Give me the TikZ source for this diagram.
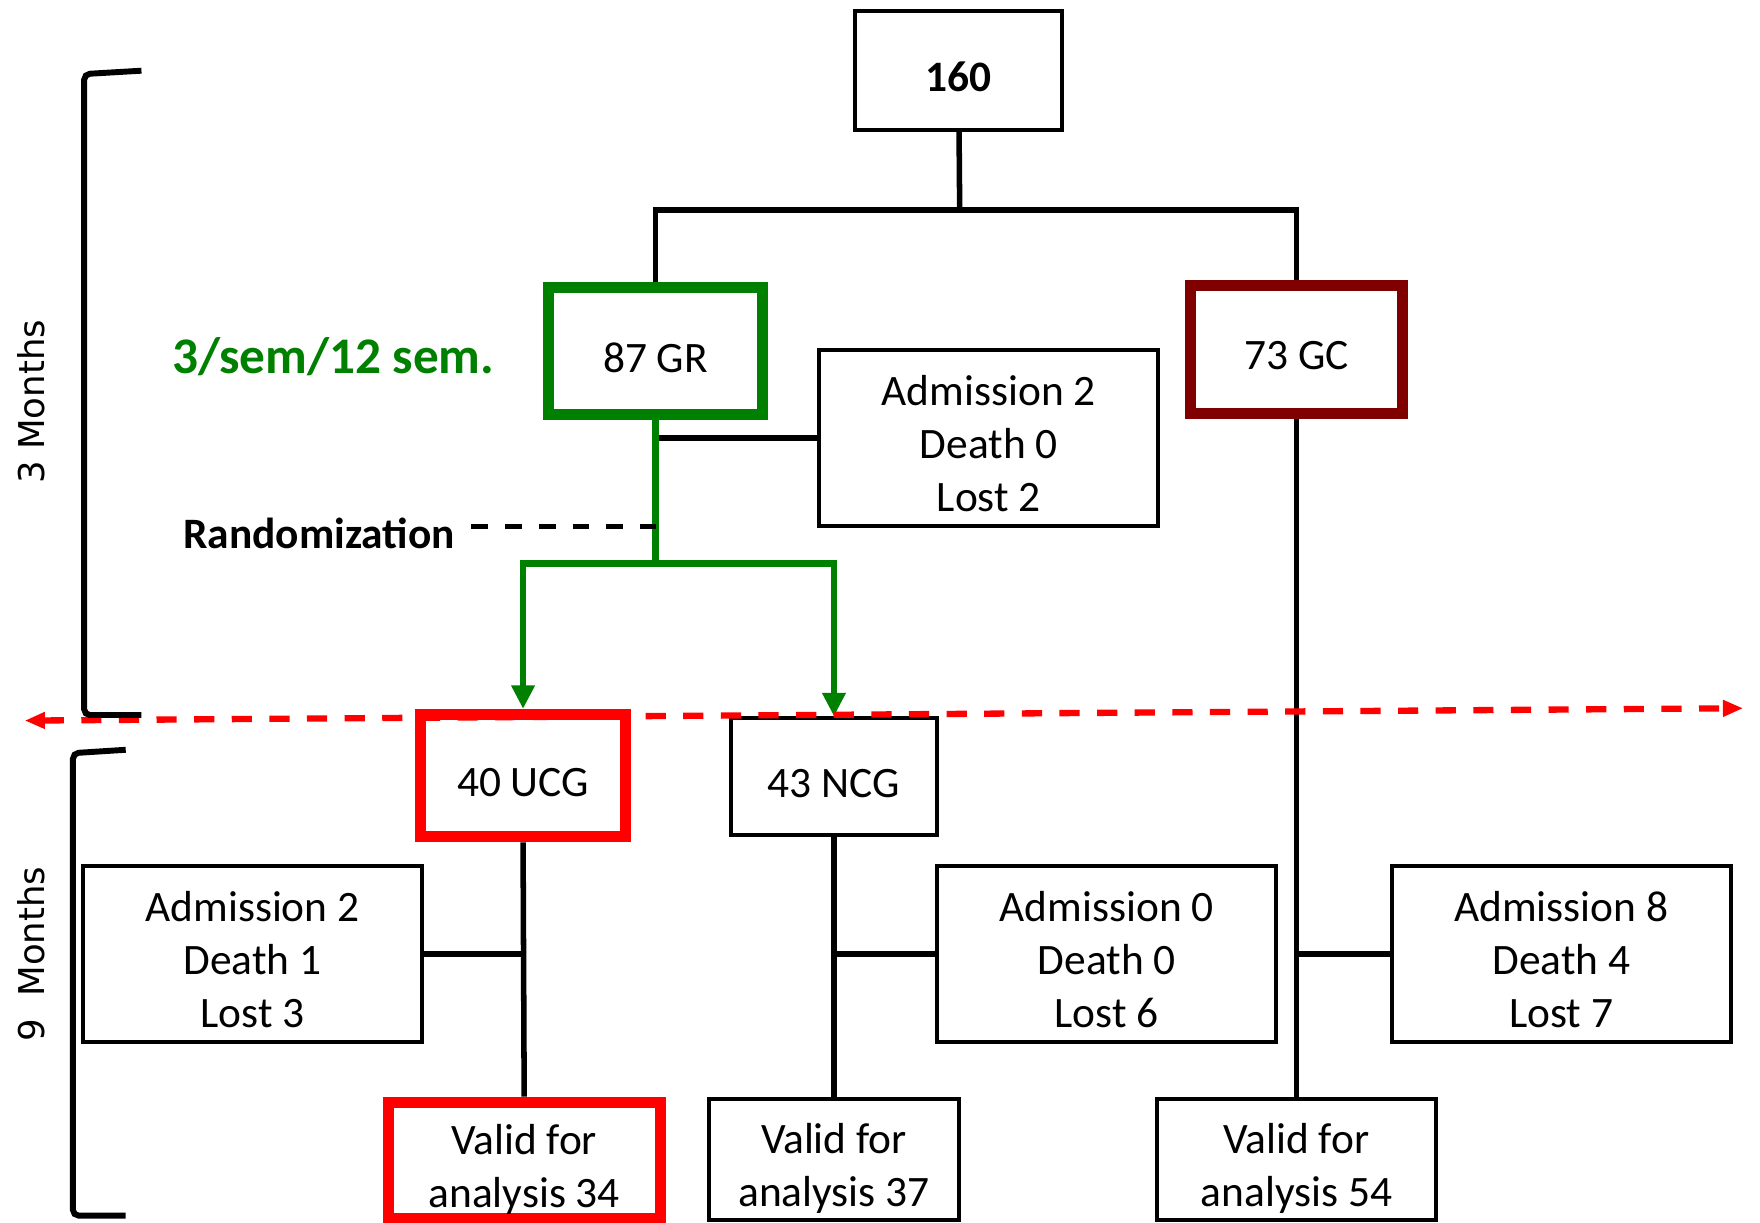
\documentclass[tikz,border=0pt]{standalone}
\usepackage{fontspec}
\setmainfont{Carlito}
\newfontfamily\monthsfont{DejaVu Sans}
\usetikzlibrary{positioning,
	arrows.meta,
	calc}
\definecolor{grgreen}{RGB}{0,128,0}
\definecolor{gcred}{RGB}{128,0,0}
\definecolor{ucgred}{RGB}{255,0,0}

\begin{document}
\begin{tikzpicture}[x=0.01cm,y=-0.01cm,
	plainbox/.style={draw,line width=1pt,align=center,inner sep=0pt,font=\fontsize{11}{13.4}\selectfont,text height=10.5pt,text depth=0pt},
	twolines/.style={text height=23.9pt},
	threelines/.style={text height=37.3pt},
	greenbox/.style={plainbox,draw=grgreen,line width=2.8pt},
	redbox/.style={plainbox,draw=ucgred,line width=2.8pt},
	darkbox/.style={plainbox,draw=gcred,line width=2.8pt},
	link/.style={line width=1.4pt},
	greenlink/.style={grgreen,line width=1.6pt,-{Triangle[length=0.21cm,width=0.2cm]}},
	randline/.style={line width=1.4pt,dash pattern=on 0.15cm off 0.15cm},
	cutline/.style={ucgred,line width=1.6pt,dash pattern=on 0.18cm off 0.155cm,{Triangle[length=0.18cm,width=0.14cm]}-{Triangle[length=0.18cm,width=0.14cm]}},
	bracket/.style={line width=1.5pt,rounded corners=0.05cm},
	monthlabel/.style={rotate=90,inner sep=0pt,font=\monthsfont\fontsize{9}{11}\selectfont}]
	\useasboundingbox (0,0) rectangle (1568,1089);
	\node[plainbox,minimum width=1.84cm,minimum height=1.06cm,font=\fontsize{11}{13.4}\selectfont\bfseries] (total) at (854,63) {160};
	\node[greenbox,minimum width=1.90cm,minimum height=1.13cm] (gr) at (584,313) {87 GR};
	\node[darkbox,minimum width=1.89cm,minimum height=1.14cm] (gc) at (1155,311) {73 GC};
	\node[plainbox,threelines,minimum width=3.02cm,minimum height=1.57cm] (admgr) at (881,390) {Admission 2\\Death 0\\Lost 2};
	\node[redbox,minimum width=1.82cm,minimum height=1.09cm] (ucg) at (466,691) {40 UCG};
	\node[plainbox,minimum width=1.83cm,minimum height=1.04cm] (ncg) at (743,692) {43 NCG};
	\foreach \nm/\xpos/\adm/\dth/\lst in {admucg/225/2/1/3,admncg/986/0/0/6,admgc/1391/8/4/7}
		\node[plainbox,threelines,minimum width=3.02cm,minimum height=1.57cm] (\nm) at (\xpos,850) {Admission \adm\\Death \dth\\Lost \lst};
	\node[redbox,twolines,minimum width=2.42cm,minimum height=1.04cm] (validucg) at (467,1034) {Valid for\\analysis 34};
	\node[plainbox,twolines,minimum width=2.23cm,minimum height=1.07cm] (validncg) at (743,1033) {Valid for\\analysis 37};
	\node[plainbox,twolines,minimum width=2.48cm,minimum height=1.07cm] (validgc) at (1155,1033) {Valid for\\analysis 54};
	\node[text=grgreen,inner sep=0pt,font=\fontsize{13}{15}\selectfont\bfseries] (freq) at (297,318) {3/sem/12 sem.};
	\node[anchor=east,inner sep=0pt,font=\fontsize{11}{13.4}\selectfont\bfseries] (randtxt) at (406,475) {Randomization};
	\node[monthlabel] (three) at (28,358) {3 Months};
	\node[monthlabel] (nine) at (28,850) {9\ \ Months};
	\coordinate (split) at (855,187);
	\coordinate (randsplit) at (584,502);
	\coordinate (randend) at (584,469);
	\coordinate (cutleft) at (22,642);
	\coordinate (cutright) at (1553,631);
	\draw[link] (total) -- (split);
	\draw[link] (gr.north) |- (split) -| (gc.north);
	\draw[link] (admgr.west) -- (admgr.west -| gr.south);
	\draw[grgreen,line width=1.6pt] (gr.south) -- (randsplit);
	\draw[greenlink] (randsplit) -| (ucg.north);
	\draw[greenlink] (randsplit) -| (ncg.north);
	\draw[randline,shorten <=0.14cm] (randtxt.east |- randend) -- (randend);
	\draw[link] (ucg.south) -- (validucg.north);
	\draw[link] (admucg.east) -- (admucg.east -| ucg.south);
	\draw[link] (ncg.south) -- (validncg.north);
	\draw[link] (admncg.west) -- (admncg.west -| ncg.south);
	\draw[link] (gc.south) -- (validgc.north);
	\draw[link] (admgc.west) -- (admgc.west -| gc.south);
	\draw[cutline] (cutleft) -- (cutright);
	\draw[bracket] (126,63) -- (75,66) -- (75,637) -- (126,637);
	\draw[bracket] (112,668) -- (65,671) -- (65,1083) -- (112,1083);
\end{tikzpicture}
\end{document}
